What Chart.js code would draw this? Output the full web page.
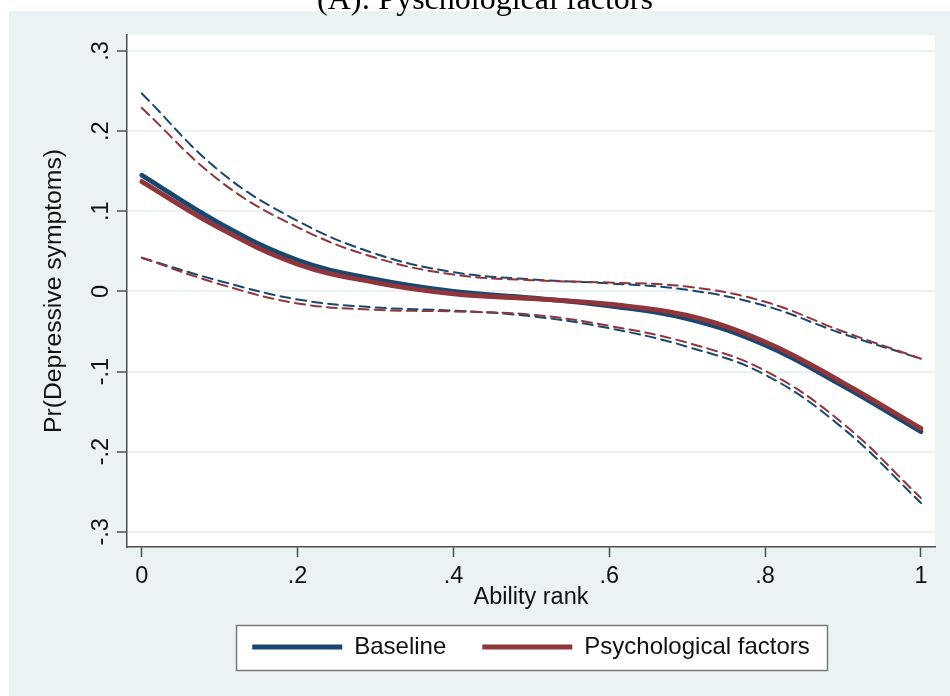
<!DOCTYPE html>
<html>
<head>
<meta charset="utf-8">
<title>Pr(Depressive symptoms) by ability rank</title>
<script src="https://cdn.jsdelivr.net/npm/chart.js@4.4.1/dist/chart.umd.min.js"></script>
<style>
  html, body { margin: 0; padding: 0; background: #ffffff; }
  #wrap { width: 950px; height: 696px; position: relative; }
</style>
</head>
<body>
<div id="wrap"><canvas id="chart" width="950" height="696"></canvas></div>
<script>
// Ability rank grid at which the fitted curves are evaluated
const abilityRank = [0, 0.1, 0.2, 0.3, 0.4, 0.5, 0.6, 0.7, 0.8, 0.9, 1];

// Baseline model: fitted curve and 95% confidence bounds
const baselineFit   = [0.145, 0.085, 0.039, 0.015, 0.000, -0.008, -0.018, -0.034, -0.067, -0.118, -0.175];
const baselineUpper = [0.247, 0.150, 0.088, 0.047, 0.024, 0.015, 0.010, 0.002, -0.018, -0.053, -0.084];
const baselineLower = [0.042, 0.013, -0.010, -0.020, -0.024, -0.031, -0.046, -0.069, -0.104, -0.171, -0.264];

// Model adding psychological factors
const psychFit   = [0.137, 0.079, 0.034, 0.011, -0.003, -0.009, -0.016, -0.030, -0.063, -0.114, -0.171];
const psychUpper = [0.229, 0.138, 0.080, 0.042, 0.021, 0.014, 0.011, 0.006, -0.013, -0.050, -0.084];
const psychLower = [0.042, 0.009, -0.015, -0.023, -0.025, -0.029, -0.043, -0.064, -0.099, -0.165, -0.258];

// Axis ticks and labels
const xTickValues = [0, 0.2, 0.4, 0.6, 0.8, 1];
const xTickLabels = ['0', '.2', '.4', '.6', '.8', '1'];
const yTickValues = [-0.3, -0.2, -0.1, 0, 0.1, 0.2, 0.3];
const yTickLabels = ['-.3', '-.2', '-.1', '0', '.1', '.2', '.3'];

const chartTitle = '(A): Pyschological factors';
const seriesNames = ['Baseline', 'Psychological factors'];

const NAVY = '#1a476f';
const MAROON = '#90353b';
const BG = '#eaf2f3';
const AXIS = '#4d4d4d';
const SANS = '"Liberation Sans", Arial, sans-serif';

const toPoints = ys => abilityRank.map((x, i) => ({ x: x, y: ys[i] }));

function curve(label, ys, color, dashed, order) {
  return {
    label: label,
    data: toPoints(ys),
    borderColor: color,
    backgroundColor: color,
    borderWidth: dashed ? 2 : 4.8,
    borderDash: dashed ? [10, 6] : [],
    borderCapStyle: 'round',
    pointRadius: 0,
    pointHoverRadius: 0,
    fill: false,
    tension: 0.4,
    order: order
  };
}

// Light panel behind the graph, white plot region, legend frame and title
const backdrop = {
  id: 'backdrop',
  beforeDraw(chart) {
    const { ctx, chartArea: a } = chart;
    ctx.save();
    ctx.fillStyle = '#ffffff';
    ctx.fillRect(0, 0, chart.width, chart.height);
    ctx.fillStyle = BG;
    ctx.fillRect(9, 11, chart.width - 9, chart.height - 11);
    ctx.fillStyle = '#ffffff';
    ctx.fillRect(a.left, a.top, a.right - a.left, a.bottom - a.top);

    const boxes = chart.legend && chart.legend.legendHitBoxes;
    if (boxes && boxes.length) {
      const l = Math.min(...boxes.map(b => b.left));
      const r = Math.max(...boxes.map(b => b.left + b.width));
      const t = boxes[0].top;
      const x0 = Math.round(l - 16), x1 = Math.round(r + 17);
      const y0 = Math.round(t - 10), y1 = Math.round(t + 35);
      ctx.fillStyle = '#ffffff';
      ctx.fillRect(x0, y0, x1 - x0, y1 - y0);
      ctx.strokeStyle = '#7a7a7a';
      ctx.lineWidth = 1.5;
      ctx.strokeRect(x0 + 0.5, y0 + 0.5, x1 - x0, y1 - y0);
    }

    ctx.fillStyle = '#000000';
    ctx.font = '32px "Liberation Serif", "Times New Roman", serif';
    ctx.textAlign = 'center';
    ctx.textBaseline = 'alphabetic';
    ctx.fillText(chartTitle, 485, 9);
    ctx.restore();
  }
};

new Chart(document.getElementById('chart'), {
  type: 'line',
  data: {
    datasets: [
      curve(seriesNames[0], baselineFit, NAVY, false, 2),
      curve(seriesNames[1], psychFit, MAROON, false, 1),
      curve('Baseline upper', baselineUpper, NAVY, true, 4),
      curve('Baseline lower', baselineLower, NAVY, true, 4),
      curve('Psychological upper', psychUpper, MAROON, true, 3),
      curve('Psychological lower', psychLower, MAROON, true, 3)
    ]
  },
  options: {
    responsive: false,
    devicePixelRatio: 1,
    animation: false,
    layout: { padding: { left: 0, right: 15, top: 35, bottom: 27 } },
    scales: {
      x: {
        type: 'linear',
        min: -0.019,
        max: 1.018,
        afterBuildTicks: s => { s.ticks = xTickValues.map(v => ({ value: v })); },
        afterFit: s => { s.height = 52; },
        grid: { drawOnChartArea: false, drawTicks: true, tickLength: 10, tickColor: AXIS, tickWidth: 1.5 },
        border: { display: true, color: AXIS, width: 1.5 },
        ticks: {
          autoSkip: false,
          maxRotation: 0,
          padding: 5.4,
          color: '#111111',
          font: { family: SANS, size: 23.5 },
          callback: (v, i) => xTickLabels[i]
        },
        title: {
          display: true,
          text: 'Ability rank',
          color: '#111111',
          font: { family: SANS, size: 23.5 },
          padding: { top: 0, bottom: -13.1 }
        }
      },
      y: {
        type: 'linear',
        min: -0.319,
        max: 0.32,
        afterBuildTicks: s => { s.ticks = yTickValues.map(v => ({ value: v })); },
        afterFit: s => { s.width = 127; },
        grid: { color: BG, lineWidth: 2, drawTicks: true, tickLength: 10, tickColor: AXIS, tickWidth: 1.5 },
        border: { display: true, color: AXIS, width: 1.5 },
        ticks: {
          autoSkip: false,
          minRotation: 90,
          maxRotation: 90,
          crossAlign: 'center',
          padding: 1.5,
          color: '#111111',
          font: { family: SANS, size: 23.5 },
          callback: (v, i) => yTickLabels[i]
        },
        title: {
          display: true,
          text: 'Pr(Depressive symptoms)',
          color: '#111111',
          font: { family: SANS, size: 24.7 },
          padding: { top: 39.2, bottom: 0 }
        }
      }
    },
    plugins: {
      legend: {
        position: 'bottom',
        fullSize: false,
        labels: {
          usePointStyle: true,
          pointStyle: 'line',
          pointStyleWidth: 90,
          boxHeight: 24,
          padding: 36,
          color: '#111111',
          font: { family: SANS, size: 24 },
          filter: item => item.datasetIndex < 2,
          sort: (a, b) => a.datasetIndex - b.datasetIndex
        }
      },
      tooltip: { enabled: false }
    }
  },
  plugins: [backdrop]
});
</script>
</body>
</html>
